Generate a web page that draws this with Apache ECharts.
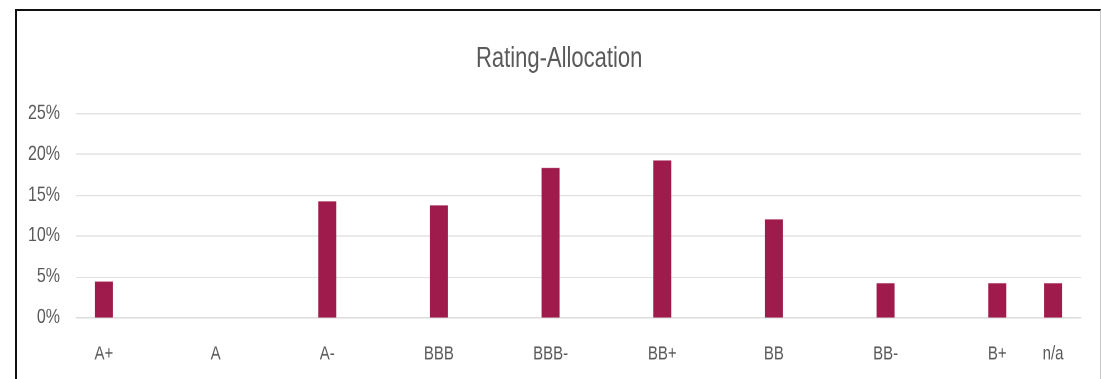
<!DOCTYPE html>
<html>
<head>
<meta charset="utf-8">
<script src="https://cdn.jsdelivr.net/npm/echarts@6/dist/echarts.min.js"></script>
<style>
  html, body { margin: 0; padding: 0; background: #fff; overflow: hidden; }
  #chart { position: absolute; left: 0; top: 0; width: 1101px; height: 291.5px;
           transform: scaleY(1.3); transform-origin: 0 0; }
  #frame { position: absolute; left: 15px; top: 9px; width: 1083px; height: 400px;
           border-top: 2px solid #111; border-left: 2px solid #111; border-right: 1px solid #c8c8c8;
           pointer-events: none; }
</style>
</head>
<body>
<div id="chart"></div>
<div id="frame"></div>
<script>
const title = 'Rating-Allocation';
const categories = ['A+', '', 'A', '', 'A-', '', 'BBB', '', 'BBB-', '', 'BB+', '', 'BB', '', 'BB-', '', 'B+', 'n/a'];
const values = [4.4, null, 0, null, 14.2, null, 13.7, null, 18.3, null, 19.2, null, 12.0, null, 4.2, null, 4.2, 4.2];
const yTicks = [0, 5, 10, 15, 20, 25];

const chart = echarts.init(document.getElementById('chart'), null, { renderer: 'canvas', devicePixelRatio: 2 });
const font = '"Liberation Sans Narrow", "Liberation Sans", sans-serif';
chart.setOption({
  animation: false,
  title: {
    text: title, left: 471, top: 29.5,
    textStyle: { color: '#595959', fontSize: 22, fontWeight: 'normal', fontFamily: font }
  },
  grid: { left: 76, right: 20, top: 86.9, bottom: 47.7 },
  xAxis: {
    type: 'category', data: categories,
    axisLine: { lineStyle: { color: '#d9d9d9', width: 0.8 } },
    axisTick: { show: false },
    axisLabel: { color: '#595959', fontSize: 15, fontFamily: font, margin: 20.5, interval: 0 }
  },
  yAxis: {
    type: 'value', min: yTicks[0], max: yTicks[yTicks.length - 1], interval: 5,
    axisLine: { show: false }, axisTick: { show: false },
    splitLine: { lineStyle: { color: '#d9d9d9', width: 0.8 } },
    axisLabel: { color: '#595959', fontSize: 16, fontFamily: font, margin: 16, formatter: '{value}%' }
  },
  series: [{
    type: 'bar', data: values, barWidth: 18,
    itemStyle: { color: '#9e1b4b' }
  }]
});
</script>
</body>
</html>
